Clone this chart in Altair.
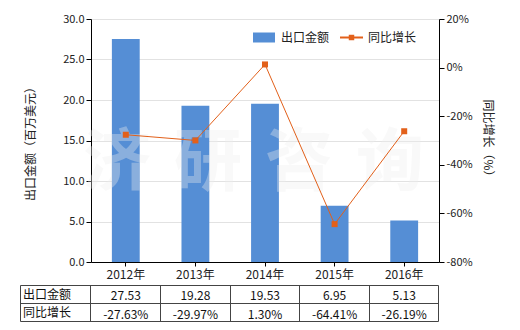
import altair as alt
import pandas as pd

years = ["2012年", "2013年", "2014年", "2015年", "2016年"]
export_value = [27.53, 19.28, 19.53, 6.95, 5.13]
growth = [-27.63, -29.97, 1.30, -64.41, -26.19]
value_labels = ["27.53", "19.28", "19.53", "6.95", "5.13"]
growth_labels = ["-27.63%", "-29.97%", "1.30%", "-64.41%", "-26.19%"]
left_ticks = [0, 5, 10, 15, 20, 25, 30]
right_ticks = [-80, -60, -40, -20, 0, 20]

df = pd.DataFrame({"year": years, "value": export_value, "growth": growth,
                   "vlabel": value_labels, "glabel": growth_labels})
one = pd.DataFrame({"a": [0]})

F = "Noto Sans CJK SC"
BAR = "#558ED5"
LINE = "#E2601A"
W, H = 348, 243

x = alt.X("year:N", sort=years,
          scale=alt.Scale(paddingInner=0, paddingOuter=0),
          axis=alt.Axis(title=None, labelAngle=0, tickSize=4, labelPadding=3,
                        domainColor="black", tickColor="black", labelColor="#222",
                        labelFont=F, labelFontSize=12))

base = alt.Chart(df)

bars = base.mark_bar(color=BAR, width=alt.RelativeBandSize(0.4)).encode(
    x=x,
    y=alt.Y("value:Q", scale=alt.Scale(domain=[0, 30], nice=False),
            axis=alt.Axis(orient="left", values=left_ticks, format=".1f",
                          grid=True, gridColor="#e2e2e2", tickSize=5, labelPadding=2,
                          domainColor="black", tickColor="black", labelColor="#222",
                          labelFont=F, labelFontSize=11,
                          title="出口金额（百万美元）", titleFont=F, titleFontSize=12,
                          titleFontWeight="normal", titleColor="#222",
                          titleAngle=-90, titleX=-61, titleY=121.5,
                          titleAlign="center", titleBaseline="middle"))
)

gscale = alt.Scale(domain=[-80, 20], nice=False)
line = base.mark_line(color=LINE, strokeWidth=1).encode(
    x=x,
    y=alt.Y("growth:Q", scale=gscale,
            axis=alt.Axis(orient="right", values=right_ticks,
                          labelExpr="datum.value + '%'", grid=False, tickSize=5,
                          labelPadding=2, domainColor="black", tickColor="black",
                          labelColor="#222", labelFont=F, labelFontSize=11,
                          title="同比增长（%）", titleFont=F, titleFontSize=12,
                          titleFontWeight="normal", titleColor="#222",
                          titleAngle=90, titleX=48, titleY=121.5,
                          titleAlign="center", titleBaseline="middle"))
)
points = base.mark_point(shape="square", filled=True, size=36, color=LINE, opacity=1).encode(
    x=x, y=alt.Y("growth:Q", scale=gscale, axis=None)
)

# watermark
wm_chars = ["济", "研", "咨", "询"]
wm_x = [26, 117, 208, 299]
wm = [alt.Chart(one).mark_text(text=c, font=F, fontSize=68, fontWeight="bold",
                               color="#eeeeee", opacity=0.35).encode(
        x=alt.value(px), y=alt.value(146)) for c, px in zip(wm_chars, wm_x)]

# legend
leg = [
    alt.Chart(one).mark_rect(color=BAR).encode(
        x=alt.value(162), x2=alt.value(184), y=alt.value(13.5), y2=alt.value(23.5)),
    alt.Chart(one).mark_text(text="出口金额", align="left", baseline="middle",
                             font=F, fontSize=12, color="#222").encode(
        x=alt.value(190), y=alt.value(18.5)),
    alt.Chart(one).mark_rule(color=LINE, strokeWidth=2).encode(
        x=alt.value(249), x2=alt.value(272), y=alt.value(18.5)),
    alt.Chart(one).mark_point(shape="square", filled=True, size=30, color=LINE, opacity=1).encode(
        x=alt.value(260.5), y=alt.value(18.5)),
    alt.Chart(one).mark_text(text="同比增长", align="left", baseline="middle",
                             font=F, fontSize=12, color="#222").encode(
        x=alt.value(277), y=alt.value(18.5)),
]

# table
TC = "#444"
rules = []
for yy in [266.5, 284.5, 302.5]:
    rules.append(alt.Chart(one).mark_rule(color=TC, strokeWidth=1).encode(
        x=alt.value(-70.5), x2=alt.value(347.5), y=alt.value(yy)))
for xx in [-70.5, -0.5, 69.5, 139.5, 208.5, 278.5, 347.5]:
    rules.append(alt.Chart(one).mark_rule(color=TC, strokeWidth=1).encode(
        x=alt.value(xx), y=alt.value(266.5), y2=alt.value(302.5)))

row1 = base.mark_text(font=F, fontSize=12, color="#111", baseline="middle").encode(
    x=x, y=alt.value(277), text="vlabel:N")
row2 = base.mark_text(font=F, fontSize=12, color="#111", baseline="middle").encode(
    x=x, y=alt.value(295.5), text="glabel:N")
hdr = [
    alt.Chart(one).mark_text(text="出口金额", align="left", baseline="middle",
                             font=F, fontSize=12, color="#111").encode(
        x=alt.value(-68), y=alt.value(275.5)),
    alt.Chart(one).mark_text(text="同比增长", align="left", baseline="middle",
                             font=F, fontSize=12, color="#111").encode(
        x=alt.value(-68), y=alt.value(293.5)),
]

chart = alt.layer(bars, *wm, line, points, *leg, *rules, row1, row2, *hdr).resolve_scale(
    y="independent"
).properties(
    width=W, height=H,
    autosize=alt.AutoSizeParams(type="none"),
    padding={"left": 91, "top": 19, "right": 81, "bottom": 68},
).configure_view(stroke=None)

chart.save("out.html", embed_options={"renderer": "svg", "actions": False})
